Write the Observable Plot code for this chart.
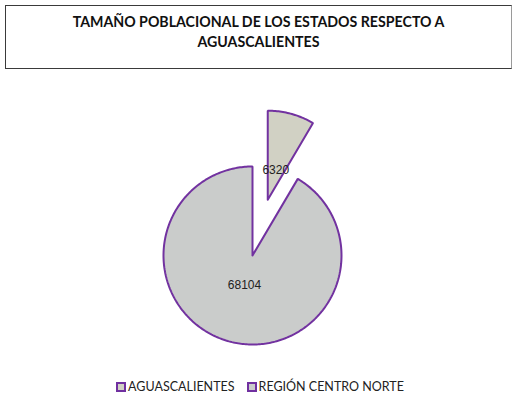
<!DOCTYPE html>
<html>
<head>
<meta charset="utf-8">
<script src="https://cdn.jsdelivr.net/npm/d3@7"></script>
<script src="https://cdn.jsdelivr.net/npm/@observablehq/plot@0.6"></script>
<style>
  html, body { margin: 0; padding: 0; background: #fff; }
  #wrap { position: relative; width: 520px; height: 412px; overflow: hidden; }
  #title { position: absolute; left: 5px; top: 5px; width: 505px; height: 56px; border: 1px solid #3a3a3a; border-right-color: #9a9a9a;
    font-family: Lato, "Open Sans", sans-serif; font-weight: bold; font-size: 14.2px; color: #111; text-align: center; line-height: 20px; padding-top: 6px; }
  #chart { position: absolute; left: 0; top: 75px; }
  #legend { position: absolute; left: 0; top: 379px; width: 520px; text-align: center; font-family: Lato, "Open Sans", sans-serif; font-size: 12.5px; color: #222; }
  .item { display: inline-block; margin: 0 6px; }
  .sw { display: inline-block; width: 6px; height: 6px; border: 2px solid #7030a0; vertical-align: -1px; margin-right: 2px; }
</style>
</head>
<body>
<div id="wrap">
  <div id="title">TAMAÑO POBLACIONAL DE LOS ESTADOS RESPECTO A<br>AGUASCALIENTES</div>
  <div id="chart"></div>
  <div id="legend"></div>
</div>
<script>
const categories = ["AGUASCALIENTES", "REGIÓN CENTRO NORTE"];
const values = [6320, 68104];
const sliceFills = ["#d1d1c4", "#cacccb"];
const explodeOffsets = [0.65, 0];

const total = d3.sum(values);
let acc = 0;
const slices = categories.map((name, i) => {
  const a0 = acc / total * 2 * Math.PI;
  acc += values[i];
  const a1 = acc / total * 2 * Math.PI;
  const mid = (a0 + a1) / 2;
  const ox = explodeOffsets[i] * Math.sin(mid);
  const oy = explodeOffsets[i] * Math.cos(mid);
  const n = Math.max(8, Math.ceil((a1 - a0) / (Math.PI / 180)));
  const pts = [{x: ox, y: oy}];
  for (let k = 0; k <= n; k++) {
    const a = a0 + (a1 - a0) * k / n;
    pts.push({x: ox + Math.sin(a), y: oy + Math.cos(a)});
  }
  pts.push({x: ox, y: oy});
  return {name, value: values[i], fill: sliceFills[i], pts,
    lx: ox + 0.34 * Math.sin(mid), ly: oy + 0.34 * Math.cos(mid)};
});

const R = 89, cx = 252, cy = 180, W = 520, H = 290;
const chart = Plot.plot({
  width: W, height: H,
  margin: 0,
  x: {domain: [-cx / R, (W - cx) / R], range: [0, W], axis: null},
  y: {domain: [-(H - cy) / R, cy / R], range: [H, 0], axis: null},
  marks: [
    ...slices.slice().reverse().map(s => Plot.line(s.pts, {
      x: "x", y: "y", fill: s.fill, stroke: "#7232a0", strokeWidth: 2,
      strokeLinejoin: "miter", curve: "linear"
    })),
    Plot.text(slices, {x: "lx", y: "ly", text: d => String(d.value),
      fontFamily: "Liberation Sans, Arial, sans-serif", fontSize: 12, fill: "#222"})
  ]
});
document.getElementById("chart").appendChild(chart);

const legend = document.getElementById("legend");
slices.forEach(s => {
  const item = document.createElement("span");
  item.className = "item";
  const sw = document.createElement("span");
  sw.className = "sw";
  sw.style.background = s.fill;
  item.appendChild(sw);
  item.appendChild(document.createTextNode(s.name));
  legend.appendChild(item);
});
</script>
</body>
</html>
